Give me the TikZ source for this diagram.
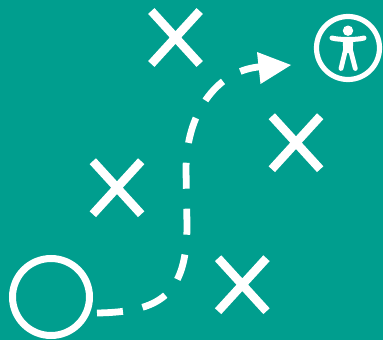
\documentclass[tikz,border=0pt]{standalone}
\definecolor{teal1}{HTML}{009E8E}
\tikzset{
  crossmark/.style={draw=white,line width=8.6pt,cross out,minimum width=48.4pt,minimum height=53pt,inner sep=0pt,outer sep=0pt},
  ring/.style={draw=white,circle,inner sep=0pt,outer sep=0pt},
  route/.style={draw=white,line width=6.8pt,dash pattern=on 26pt off 20pt},
  limb/.style={draw=white,line cap=round,line join=round}
}
\usetikzlibrary{shapes.misc}
\begin{document}
\begin{tikzpicture}[x=1pt,y=-1pt]
\useasboundingbox (0,0) rectangle (383,340);
\fill[teal1] (0,0) rectangle (383,340);
% crosses
\node[crossmark] (x1) at (175.5,37.5) {};
\node[crossmark] (x2) at (296,142.7) {};
\node[crossmark] (x3) at (117,187.7) {};
\node[crossmark] (x4) at (242.3,284.7) {};
% start ring
\node[ring,line width=7pt,minimum size=77pt] (start) at (51,297) {};
% goal ring
\node[ring,line width=5.2pt,minimum size=63pt] (goal) at (348,48) {};
% person
\fill[white] (348,30.7) circle (5.2);
\draw[limb,line width=5pt] (332,38) .. controls (338,40) and (358,40) .. (364,38);
\fill[white] (342.8,39) -- (353.2,39) -- (352.8,53) -- (343.2,53) -- cycle;
\draw[limb,line width=4.8pt] (345.5,50) -- (341,68.5);
\draw[limb,line width=4.8pt] (350.5,50) -- (355.3,68.5);
% route
\coordinate (r0) at (97,313);
\coordinate (r1) at (187,225);
\coordinate (r2) at (186,170);
\coordinate (r3) at (258,67);
\draw[route] (r0) .. controls (160,312) and (187,295) .. (r1) -- (r2)
  .. controls (186,115) and (215,72) .. (r3) -- (270,65.5);
% arrow head
\coordinate (h1) at (257,52);
\coordinate (h2) at (291,65);
\coordinate (h3) at (260.5,84);
\fill[white] (h1) -- (h2) -- (h3) -- cycle;
\end{tikzpicture}
\end{document}
